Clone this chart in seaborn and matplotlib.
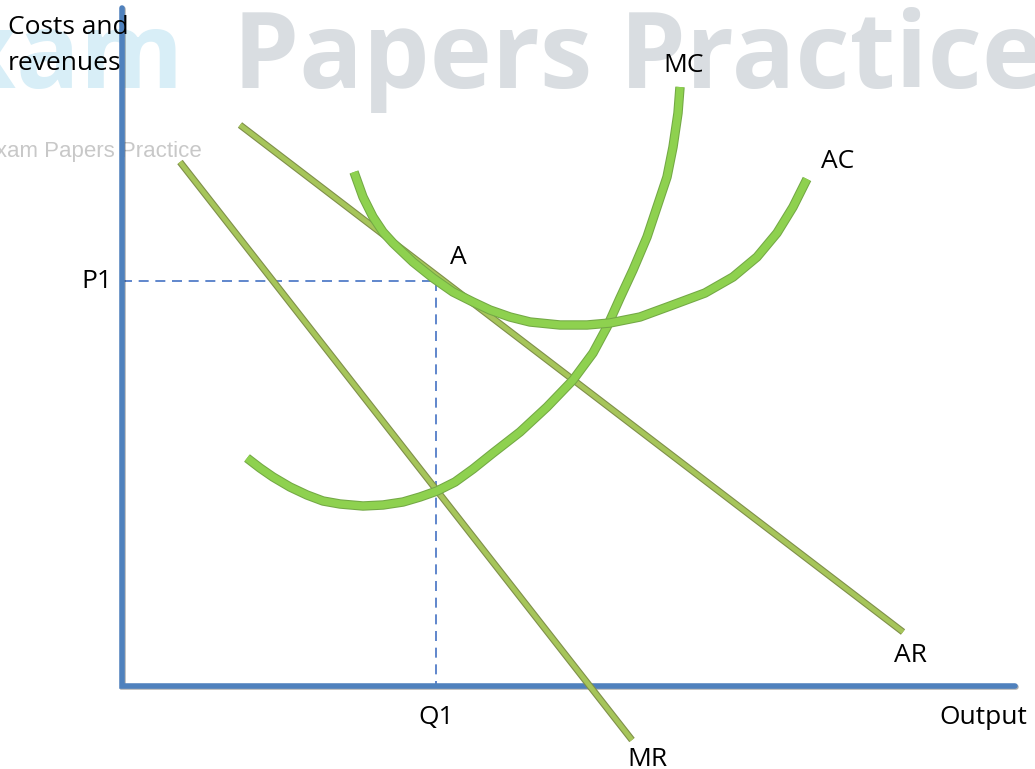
import matplotlib
matplotlib.use('Agg')
import matplotlib.pyplot as plt
import matplotlib.patheffects as pe
import seaborn as sns
import pandas as pd

# ==========================
# DATA (pixel-like units, y grows downwards)
# ==========================
ar_x = [240, 903]
ar_y = [125, 632]

mr_x = [180, 632]
mr_y = [162, 740]

mc_x = [247, 260, 273, 290, 307, 323, 340, 363, 383, 403, 420, 437, 455, 473,
        493, 520, 547, 573, 593, 607, 620, 633, 647, 657, 667, 673, 678, 680]
mc_y = [458, 468, 477, 487, 495, 501, 504, 506, 505, 502, 497, 491, 482, 469,
        453, 432, 407, 380, 353, 327, 298, 270, 237, 207, 177, 147, 113, 87]

ac_x = [354, 363, 373, 383, 393, 413, 433, 453, 473, 490, 510, 530, 560, 587,
        610, 640, 670, 705, 733, 757, 777, 793, 807]
ac_y = [172, 197, 217, 232, 243, 262, 278, 292, 302, 310, 317, 322, 325, 325,
        323, 317, 306, 293, 277, 257, 233, 207, 179]

p1_y = 281
q1_x = 436

labels = ['MC', 'AC', 'A', 'AR', 'MR']
label_x = [684, 838, 458, 910, 647]
label_y = [65, 162, 258, 656, 760]

# ==========================
# FIGURE
# ==========================
sns.set_style('white')
plt.rcParams['font.family'] = ['Open Sans', 'DejaVu Sans']

fig = plt.figure(figsize=(10.35, 7.69), dpi=100)
ax = fig.add_axes([0, 0, 1, 1])
ax.set_xlim(0, 1035)
ax.set_ylim(769, 0)
ax.axis('off')

# watermark
ax.text(184, 88, 'Exam', fontsize=76, fontweight='bold', color='#D8EEF7',
        ha='right', va='baseline', zorder=0)
ax.text(233, 88, 'Papers Practice', fontsize=76, fontweight='bold', color='#D9DDE1',
        ha='left', va='baseline', zorder=0)
ax.text(202, 152, 'Exam Papers Practice', fontsize=16, color='#C8C8C8',
        family='Liberation Sans', ha='right', va='center', zorder=0)

# axes of the diagram
ax.plot([122, 122, 1015], [8, 686, 686], color='#4F81BD', lw=4,
        solid_joinstyle='miter', zorder=2,
        path_effects=[pe.SimpleLineShadow(offset=(1, -1), alpha=0.3), pe.Normal()])

# dashed P1 / Q1 guides
ax.plot([122, q1_x], [p1_y, p1_y], color='#4472C4', lw=1.2, ls=(0, (6, 4)), zorder=1)
ax.plot([q1_x, q1_x], [p1_y, 686], color='#4472C4', lw=1.2, ls=(0, (6, 4)), zorder=1)

line_fx = [pe.Stroke(linewidth=5, foreground='#7F8F4A'), pe.Normal()]
curve_fx = [pe.Stroke(linewidth=6.8, foreground='#73A845'), pe.Normal()]

for xs, ys in [(ar_x, ar_y), (mr_x, mr_y)]:
    df = pd.DataFrame({'x': xs, 'y': ys})
    sns.lineplot(data=df, x='x', y='y', sort=False, ax=ax, color='#A6C55A',
                 lw=3.4, zorder=3, path_effects=line_fx, solid_capstyle='butt')

for xs, ys in [(mc_x, mc_y), (ac_x, ac_y)]:
    df = pd.DataFrame({'x': xs, 'y': ys})
    sns.lineplot(data=df, x='x', y='y', sort=False, ax=ax, color='#8ED14F',
                 lw=5.3, zorder=4, path_effects=curve_fx,
                 solid_joinstyle='round', solid_capstyle='butt')

# text labels
txt = dict(fontsize=19, color='black')
ax.text(8, 28, 'Costs and', ha='left', va='center', **txt)
ax.text(8, 64, 'revenues', ha='left', va='center', **txt)
ax.text(112, 282, 'P1', ha='right', va='center', **txt)
ax.text(q1_x, 718, 'Q1', ha='center', va='center', **txt)
ax.text(983, 717, 'Output', ha='center', va='center', **txt)
for name, lx, ly in zip(labels, label_x, label_y):
    ax.text(lx, ly, name, ha='center', va='center', **txt)

ax.set_xlabel('')
ax.set_ylabel('')
fig.savefig('out.png', dpi=100)
